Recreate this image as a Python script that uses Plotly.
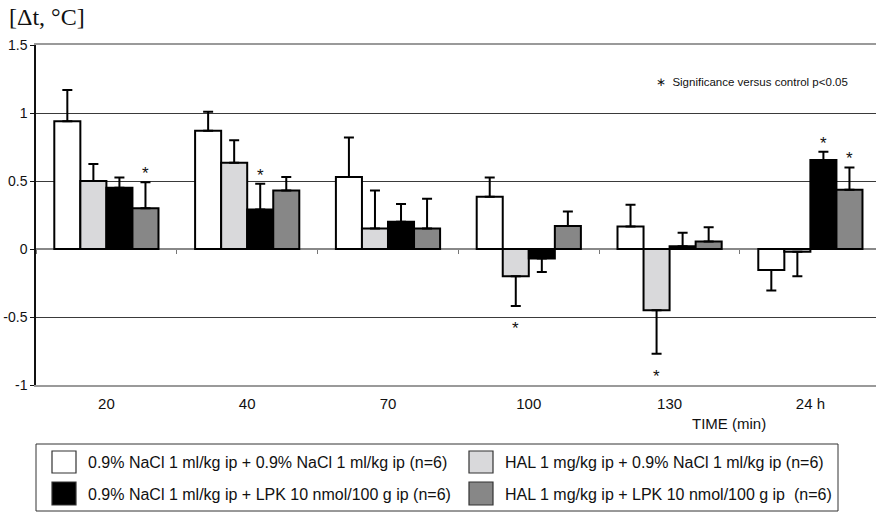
import plotly.graph_objects as go

# ---------------- data ----------------
categories = ["20", "40", "70", "100", "130", "24 h"]

series_names = [
    "0.9% NaCl 1 ml/kg ip + 0.9% NaCl 1 ml/kg ip (n=6)",
    "HAL 1 mg/kg ip + 0.9% NaCl 1 ml/kg ip (n=6)",
    "0.9% NaCl 1 ml/kg ip + LPK 10 nmol/100 g ip (n=6)",
    "HAL 1 mg/kg ip + LPK 10 nmol/100 g ip  (n=6)",
]

saline_saline = [0.94, 0.87, 0.53, 0.385, 0.165, -0.155]
saline_saline_err = [0.23, 0.14, 0.29, 0.14, 0.16, 0.15]

hal_saline = [0.50, 0.635, 0.15, -0.20, -0.45, -0.02]
hal_saline_err = [0.125, 0.165, 0.28, 0.22, 0.32, 0.18]

saline_lpk = [0.45, 0.29, 0.20, -0.07, 0.02, 0.655]
saline_lpk_err = [0.075, 0.19, 0.13, 0.10, 0.10, 0.06]

hal_lpk = [0.30, 0.43, 0.15, 0.17, 0.055, 0.435]
hal_lpk_err = [0.19, 0.10, 0.22, 0.105, 0.105, 0.165]

# significance versus control (p<0.05)
sig_saline_saline = [False, False, False, False, False, False]
sig_hal_saline = [False, False, False, True, True, False]
sig_saline_lpk = [False, True, False, False, False, True]
sig_hal_lpk = [True, False, False, False, False, True]

y_ticks = [-1, -0.5, 0, 0.5, 1, 1.5]
y_tick_labels = ["-1", "-0.5", "0", "0.5", "1", "1.5"]

# ---------------- styling ----------------
colors = ["#ffffff", "#d9d9db", "#000000", "#878787"]
values = [saline_saline, hal_saline, saline_lpk, hal_lpk]
errors = [saline_saline_err, hal_saline_err, saline_lpk_err, hal_lpk_err]
sigs = [sig_saline_saline, sig_hal_saline, sig_saline_lpk, sig_hal_lpk]

W, H = 876, 512
ML, MR, MT, MB = 36, 0, 45, 127
PW = W - ML - MR
PH = H - MT - MB
BARGAP = 0.26
FONT = "Liberation Sans, Arial, sans-serif"


def px_x(px):
    return (px - ML) / PW


def px_y(py):
    return (H - MB - py) / PH


fig = go.Figure()

for name, col, vals, errs in zip(series_names, colors, values, errors):
    plus = [e if v >= 0 else 0 for v, e in zip(vals, errs)]
    minus = [e if v < 0 else 0 for v, e in zip(vals, errs)]
    fig.add_trace(go.Bar(
        x=categories, y=vals, name=name,
        marker=dict(color=col, line=dict(color="#000000", width=2)),
        error_y=dict(type="data", symmetric=False, array=plus, arrayminus=minus,
                     color="#000000", thickness=2, width=5),
        showlegend=False,
    ))

# helper trace for the tick axis placed at y = 0
fig.add_trace(go.Scatter(x=categories, y=[None] * len(categories), xaxis="x2",
                         mode="markers", showlegend=False, hoverinfo="skip"))

# significance asterisks
n_series = len(values)
bw = (1 - BARGAP) / n_series
annotations = []
for s, (vals, errs, sg) in enumerate(zip(values, errors, sigs)):
    off = (s - (n_series - 1) / 2) * bw
    for i, (v, e, flag) in enumerate(zip(vals, errs, sg)):
        if not flag:
            continue
        if v >= 0:
            annotations.append(dict(x=i + off, y=v + e, xref="x", yref="y", text="*",
                                    showarrow=False, yanchor="bottom", yshift=-3,
                                    font=dict(size=17, family=FONT, color="#111")))
        else:
            annotations.append(dict(x=i + off, y=v - e, xref="x", yref="y", text="*",
                                    showarrow=False, yanchor="top", yshift=-11,
                                    font=dict(size=17, family=FONT, color="#111")))

# titles / notes
annotations.append(dict(x=px_x(7), y=px_y(17), xref="paper", yref="paper",
                        text="[Δt, °C]", showarrow=False, xanchor="left", yanchor="middle",
                        font=dict(size=24, family="Liberation Serif, Times New Roman, serif", color="#111")))
annotations.append(dict(x=px_x(654), y=px_y(82), xref="paper", yref="paper",
                        text="∗  Significance versus control p<0.05", showarrow=False,
                        xanchor="left", yanchor="middle",
                        font=dict(size=11.5, family=FONT, color="#111")))
annotations.append(dict(x=px_x(729), y=px_y(423), xref="paper", yref="paper",
                        text="TIME (min)", showarrow=False, xanchor="center", yanchor="middle",
                        font=dict(size=15, family=FONT, color="#111")))

# custom legend
shapes = [dict(type="rect", xref="paper", yref="paper",
               x0=px_x(36), x1=px_x(838), y0=px_y(444), y1=px_y(511),
               line=dict(color="#333", width=1), fillcolor="rgba(0,0,0,0)")]
leg_cols = [(52, 86), (469, 503)]
leg_rows = [(451, 473), (482, 505)]
leg_pos = [(0, 0), (0, 1), (1, 0), (1, 1)]  # (row, col) per series
for (r, c), name, col in zip(leg_pos, series_names, colors):
    sx, tx = leg_cols[c]
    y0, y1 = leg_rows[r]
    shapes.append(dict(type="rect", xref="paper", yref="paper",
                       x0=px_x(sx), x1=px_x(sx + 24), y0=px_y(y0), y1=px_y(y1),
                       line=dict(color="#333", width=1.2), fillcolor=col))
    annotations.append(dict(x=px_x(tx), y=px_y((y0 + y1) / 2 + 0.5), xref="paper", yref="paper",
                            text=name, showarrow=False, xanchor="left", yanchor="middle",
                            font=dict(size=16, family=FONT, color="#111")))

x_range = [-0.5, 5.466]
fig.update_layout(
    width=W, height=H,
    margin=dict(l=ML, r=MR, t=MT, b=MB, pad=0),
    paper_bgcolor="white", plot_bgcolor="white",
    barmode="group", bargap=BARGAP, bargroupgap=0,
    font=dict(family=FONT, color="#111"),
    xaxis=dict(type="category", categoryorder="array", categoryarray=categories,
               range=x_range, showgrid=False, zeroline=False,
               showline=True, mirror=True, linecolor="#9a9a9a", linewidth=2,
               ticks="outside", ticklen=4, tickcolor="rgba(0,0,0,0)",
               tickfont=dict(size=15, family=FONT, color="#111")),
    xaxis2=dict(type="category", categoryorder="array", categoryarray=categories,
                range=x_range, overlaying="x", anchor="free", position=0.4,
                showgrid=False, zeroline=False, showline=False, showticklabels=False,
                ticks="outside", tickson="boundaries", ticklen=4, tickcolor="#777", tickwidth=1.2),
    yaxis=dict(range=[-1, 1.5], tickmode="array", tickvals=y_ticks, ticktext=y_tick_labels,
               showgrid=True, gridcolor="#3a3a3a", gridwidth=1,
               zeroline=True, zerolinecolor="#888", zerolinewidth=1.5,
               showline=True, linecolor="#111", linewidth=1.5,
               ticks="outside", ticklen=4, tickcolor="#111",
               tickfont=dict(size=14, family=FONT, color="#111")),
    annotations=annotations,
    shapes=shapes,
)

fig.write_html(
    "out.html",
    config={"displayModeBar": False},
    post_script="document.body.style.margin='0';document.body.style.overflow='hidden';",
)
